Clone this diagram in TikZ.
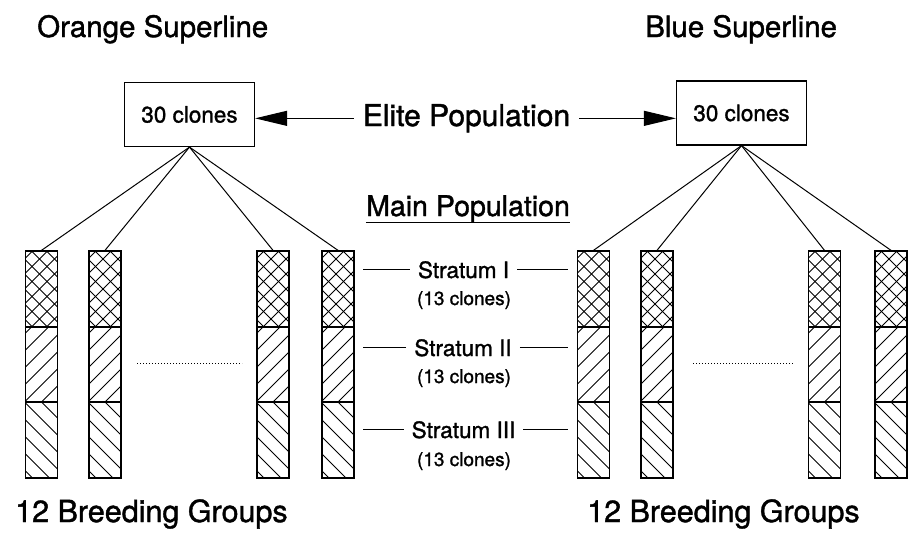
\documentclass[tikz,border=0pt]{standalone}
\usepackage{fontspec}
\setmainfont{TeX Gyre Heros}[FakeBold=1.3]
\usetikzlibrary{arrows.meta}
\begin{document}
\begin{tikzpicture}[x=1pt,y=-1pt,
  fs/.style={font=\fontsize{#1}{#1}\selectfont},
  titletext/.style={fs=29.5,inner sep=0,anchor=base west},
  bottomtext/.style={fs=30.5,inner sep=0,anchor=base west},
  clonebox/.style={draw,line width=1.2pt,minimum width=130pt,minimum height=64pt,fs=22.5,inner sep=0},
  stratum/.style={fs=22.5,anchor=base,inner xsep=8pt,inner ysep=0},
  clonecount/.style={fs=19,anchor=base,inner sep=0},
  colnode/.style={draw,line width=1.3pt,minimum width=32pt,minimum height=227pt,inner sep=0},
  hatchline/.style={line width=1pt},
  fan/.style={line width=1pt},
  tick/.style={line width=1pt},
  elitearrow/.style={line width=1pt,-{Triangle[length=32pt,width=15pt]}},
  dots/.style={line width=0.9pt,dash pattern=on 1pt off 2pt}
]
\useasboundingbox (0,0) rectangle (917,539);

% titles
\node[titletext] (tO) at (37,37) {Orange Superline};
\node[titletext] (tB) at (645,37) {Blue Superline};
\node[bottomtext] (bO) at (15,522) {12 Breeding Groups};
\node[bottomtext] (bB) at (587,522) {12 Breeding Groups};

% elite boxes
\node[clonebox] (lbox) at (189.5,114.5) {30 clones};
\node[clonebox] (rbox) at (741.5,113) {30 clones};

% elite population
\node[fs=30,anchor=base,inner xsep=9pt,inner ysep=0] (elite) at (466.5,126) {Elite Population};
\draw[elitearrow] (elite.west) -- (elite.west -| lbox.east);
\draw[elitearrow] (elite.east) -- (elite.east -| rbox.west);

% main population
\node[fs=28.5,anchor=base,inner sep=0] (mp) at (468,216) {Main Population};
\draw[line width=1pt] ([yshift=-6.5pt]mp.base west) -- ([yshift=-6.5pt]mp.base east);

% columns
\foreach \n/\x in {L1/41.5,L2/105,L3/273,L4/338,R1/593.5,R2/657,R3/824.5,R4/891} {
  \begin{scope}
    \clip (\x-16,251) rectangle (\x+16,327);
    \foreach \t in {-100,-85,...,20} {
      \draw[hatchline] (\x+\t,251) -- ++(90,90);
      \draw[hatchline] (\x+\t,327) -- ++(90,-90);
    }
  \end{scope}
  \begin{scope}
    \clip (\x-16,327) rectangle (\x+16,402);
    \foreach \t in {-102,-85,...,17} \draw[hatchline] (\x+\t,402) -- ++(90,-90);
  \end{scope}
  \begin{scope}
    \clip (\x-16,402) rectangle (\x+16,478);
    \foreach \t in {-102,-85,...,17} \draw[hatchline] (\x+\t,402) -- ++(90,90);
  \end{scope}
  \draw[line width=1.1pt] (\x-16,327) -- (\x+16,327) (\x-16,402) -- (\x+16,402);
  \node[colnode] (\n) at (\x,364.5) {};
}

% fan lines
\foreach \c in {L1,L2,L3,L4} \draw[fan] (lbox.south) -- (\c.north);
\foreach \c in {R1,R2,R3,R4} \draw[fan] (rbox.south) -- (\c.north);

% dotted ellipses
\coordinate (dl1) at (137,363);
\coordinate (dl2) at (242,363);
\coordinate (dr1) at (693,363);
\coordinate (dr2) at (793,363);
\draw[dots] (dl1) -- (dl2);
\draw[dots] (dr1) -- (dr2);

% strata
\coordinate (ls) at (363,0);
\coordinate (rs) at (568,0);
\node[stratum] (s1) at (463.5,278) {Stratum I};
\node[clonecount] (c1) at (464,305) {(13 clones)};
\node[stratum] (s2) at (463,356) {Stratum II};
\node[clonecount] (c2) at (464,383) {(13 clones)};
\node[stratum] (s3) at (463.5,438) {Stratum III};
\node[clonecount] (c3) at (464,466) {(13 clones)};
\foreach \s in {s1,s2,s3} {
  \draw[tick] (\s.west) -- (\s.west -| ls);
  \draw[tick] (\s.east) -- (\s.east -| rs);
}
\end{tikzpicture}
\end{document}
